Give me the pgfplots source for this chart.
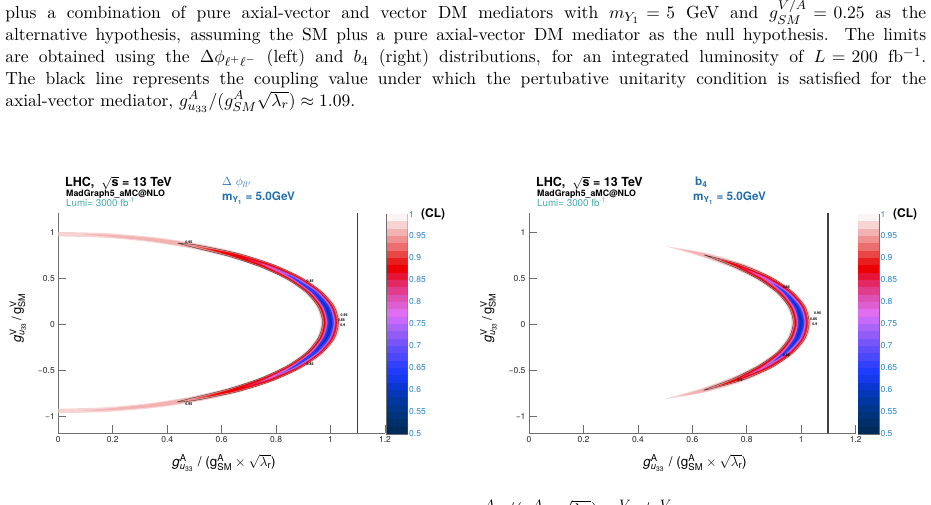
\RequirePackage{fix-cm}
\documentclass[border=0pt]{standalone}
\usepackage{amsmath}
\usepackage{fontspec}
\setsansfont{TeX Gyre Heros}
\usepackage{pgfplots}
\pgfplotsset{compat=1.18}

\definecolor{axgray}{RGB}{110,110,110}
\definecolor{tblue}{RGB}{35,110,175}
\definecolor{cbblue}{RGB}{40,130,195}
\definecolor{lumiteal}{RGB}{70,170,170}
% band colours
\definecolor{b1}{RGB}{247,212,212}
\definecolor{b2}{RGB}{243,178,178}
\definecolor{b3}{RGB}{240,145,145}
\definecolor{b4}{RGB}{233,70,70}
\definecolor{b5}{RGB}{235,0,5}
\definecolor{b6}{RGB}{228,40,100}
\definecolor{b7}{RGB}{222,95,210}
\definecolor{b8}{RGB}{150,95,248}
\definecolor{b9}{RGB}{45,60,245}
\definecolor{b10}{RGB}{10,50,200}
% colorbar colours (0.5 -> 1)
\definecolor{c0}{RGB}{0,42,90}
\definecolor{c1}{RGB}{0,48,105}
\definecolor{c2}{RGB}{0,52,122}
\definecolor{c3}{RGB}{0,55,140}
\definecolor{c4}{RGB}{0,55,160}
\definecolor{c5}{RGB}{5,55,185}
\definecolor{c6}{RGB}{10,55,210}
\definecolor{c7}{RGB}{20,58,235}
\definecolor{c8}{RGB}{30,60,250}
\definecolor{c9}{RGB}{50,65,252}
\definecolor{c10}{RGB}{75,72,250}
\definecolor{c11}{RGB}{95,78,250}
\definecolor{c12}{RGB}{120,85,248}
\definecolor{c13}{RGB}{145,92,248}
\definecolor{c14}{RGB}{170,100,248}
\definecolor{c15}{RGB}{200,105,250}
\definecolor{c16}{RGB}{225,110,240}
\definecolor{c17}{RGB}{222,95,210}
\definecolor{c18}{RGB}{222,80,180}
\definecolor{c19}{RGB}{226,60,140}
\definecolor{c20}{RGB}{228,40,100}
\definecolor{c21}{RGB}{230,20,55}
\definecolor{c22}{RGB}{235,0,5}
\definecolor{c23}{RGB}{232,30,30}
\definecolor{c24}{RGB}{233,70,70}
\definecolor{c25}{RGB}{236,110,110}
\definecolor{c26}{RGB}{240,145,145}
\definecolor{c27}{RGB}{243,178,178}
\definecolor{c28}{RGB}{247,212,212}
\definecolor{c29}{RGB}{251,244,244}

\pgfplotsset{
  mainax/.style={
    anchor=south west, scale only axis, width=326.7pt, height=220pt,
    xmin=0, xmax=1.2, ymin=-1.18, ymax=1.21,
    axis x line*=bottom, axis y line*=left,
    axis line style={draw=axgray, line width=0.7pt, -},
    xtick={0,0.2,0.4,0.6,0.8,1,1.2},
    xticklabels={0,0.2,0.4,0.6,0.8,1,1.2},
    ytick={-1,-0.5,0,0.5,1},
    yticklabels={−1,−0.5,0,0.5,1},
    tick align=inside, major tick length=8pt,
    tick style={draw=axgray, line width=0.7pt},
    ticklabel style={font=\sffamily\fontsize{8.5}{10}\selectfont, text=black!85},
    every axis plot/.append style={mark=none},
  },
  band/.style={draw=none, mark=none, forget plot, smooth, tension=0.45},
  cbax/.style={
    anchor=south west, scale only axis, width=21pt, height=220pt,
    xmin=0, xmax=1, ymin=0.5, ymax=1, enlargelimits=false,
    ybar stacked, bar width=1,
    xtick=\empty,
    ytick={0.5,0.55,0.6,0.65,0.7,0.75,0.8,0.85,0.9,0.95,1},
    yticklabels={0.5,0.55,0.6,0.65,0.7,0.75,0.8,0.85,0.9,0.95,1},
    ytick pos=right, yticklabel pos=right,
    tick align=inside, major tick length=7pt,
    tick style={draw=black!80, line width=0.6pt},
    axis line style={draw=axgray, line width=0.5pt},
    ticklabel style={font=\sffamily\fontsize{8.5}{9}\selectfont, text=cbblue},
    yticklabel style={xshift=-2pt},
  },
}

\newcommand{\cbplots}{%
  \addplot[fill=c0,draw=none] coordinates {(0.5,0.516667)};
  \addplot[fill=c1,draw=none] coordinates {(0.5,0.016667)};
  \addplot[fill=c2,draw=none] coordinates {(0.5,0.016667)};
  \addplot[fill=c3,draw=none] coordinates {(0.5,0.016667)};
  \addplot[fill=c4,draw=none] coordinates {(0.5,0.016667)};
  \addplot[fill=c5,draw=none] coordinates {(0.5,0.016667)};
  \addplot[fill=c6,draw=none] coordinates {(0.5,0.016667)};
  \addplot[fill=c7,draw=none] coordinates {(0.5,0.016667)};
  \addplot[fill=c8,draw=none] coordinates {(0.5,0.016667)};
  \addplot[fill=c9,draw=none] coordinates {(0.5,0.016667)};
  \addplot[fill=c10,draw=none] coordinates {(0.5,0.016667)};
  \addplot[fill=c11,draw=none] coordinates {(0.5,0.016667)};
  \addplot[fill=c12,draw=none] coordinates {(0.5,0.016667)};
  \addplot[fill=c13,draw=none] coordinates {(0.5,0.016667)};
  \addplot[fill=c14,draw=none] coordinates {(0.5,0.016667)};
  \addplot[fill=c15,draw=none] coordinates {(0.5,0.016667)};
  \addplot[fill=c16,draw=none] coordinates {(0.5,0.016667)};
  \addplot[fill=c17,draw=none] coordinates {(0.5,0.016667)};
  \addplot[fill=c18,draw=none] coordinates {(0.5,0.016667)};
  \addplot[fill=c19,draw=none] coordinates {(0.5,0.016667)};
  \addplot[fill=c20,draw=none] coordinates {(0.5,0.016667)};
  \addplot[fill=c21,draw=none] coordinates {(0.5,0.016667)};
  \addplot[fill=c22,draw=none] coordinates {(0.5,0.016667)};
  \addplot[fill=c23,draw=none] coordinates {(0.5,0.016667)};
  \addplot[fill=c24,draw=none] coordinates {(0.5,0.016667)};
  \addplot[fill=c25,draw=none] coordinates {(0.5,0.016667)};
  \addplot[fill=c26,draw=none] coordinates {(0.5,0.016667)};
  \addplot[fill=c27,draw=none] coordinates {(0.5,0.016667)};
  \addplot[fill=c28,draw=none] coordinates {(0.5,0.016667)};
  \addplot[fill=c29,draw=none] coordinates {(0.5,0.016667)};
}

\newcommand{\sfm}[1]{\textsf{#1}}
\newcommand{\ylab}{$\sfm{\textit{g}}^{\sfm{V}}_{\sfm{\textit{u}}_{\sfm{33}}}$\,\sfm{/}\,$\sfm{g}^{\sfm{V}}_{\sfm{SM}}$}
\newcommand{\xlab}{$\sfm{\textit{g}}^{\sfm{A}}_{\sfm{\textit{u}}_{\sfm{33}}}$\ \sfm{/ (}$\sfm{g}^{\sfm{A}}_{\sfm{SM}}\times\sqrt{\lambda_{\sfm{r}}}$\sfm{)}}

\begin{document}
\begin{tikzpicture}[x=1pt,y=1pt]
\path[use as bounding box] (0pt,0pt) rectangle (931pt,504pt);
\clip (0pt,0pt) rectangle (931pt,504pt);

% ---------- caption text ----------
\node[anchor=base west, inner sep=0pt, scale=1.6] at (5pt,485pt) {\begin{minipage}[t]{575.6pt}\fontsize{10.95}{13.62}\selectfont
\thickmuskip=5mu plus 1mu\medmuskip=4mu plus 1mu minus 4mu\noindent
plus a combination of pure axial-vector and vector DM mediators with $m_{Y_1}=5$ GeV and $g_{SM}^{V/A}=0.25$ as the\linebreak
alternative hypothesis, assuming the SM plus a pure axial-vector DM mediator as the null hypothesis. The limits\linebreak
are obtained using the $\Delta\phi_{\ell^+\ell^-}$ (left) and $b_4$ (right) distributions, for an integrated luminosity of $L=200$ fb$^{-1}$.\linebreak
The black line represents the coupling value under which the pertubative unitarity condition is satisfied for the\linebreak
axial-vector mediator, $g^A_{u_{33}}/(g^A_{SM}\sqrt{\lambda_r})\approx1.09$.
\end{minipage}};
\node[anchor=base west, inner sep=0pt, scale=1.7, font=\fontsize{10.95}{13}\selectfont] at (474pt,-12pt) {$g^A_{u_{33}}/(g^A_{SM}\sqrt{\lambda_r})$, $g^V_{u_{33}}/g^V_{SM}$};

% ================= LEFT PANEL =================
\begin{axis}[mainax, at={(58.3pt,71pt)}]
\addplot[band, fill=b1] coordinates {(-0.089,0.999) (0,1.004) (0.179,0.991) (0.352,0.947) (0.515,0.876) (0.664,0.779) (0.791,0.657) (0.895,0.516) (0.973,0.359) (1.020,0.193) (1.036,0.02) (1.020,-0.153) (0.973,-0.319) (0.895,-0.476) (0.791,-0.617) (0.664,-0.739) (0.515,-0.836) (0.352,-0.907) (0.179,-0.951) (0,-0.964) (-0.089,-0.959)
 (-0.085,-0.913) (0,-0.916) (0.169,-0.901) (0.332,-0.857) (0.485,-0.786) (0.622,-0.691) (0.741,-0.577) (0.837,-0.444) (0.907,-0.297) (0.950,-0.141) (0.964,0.02) (0.950,0.181) (0.907,0.337) (0.837,0.484) (0.741,0.617) (0.622,0.731) (0.485,0.826) (0.332,0.897) (0.169,0.941) (0,0.956) (-0.085,0.953)};
\addplot[band, fill=b2] coordinates {(0.087,0.976) (0.176,0.975) (0.348,0.938) (0.512,0.871) (0.660,0.775) (0.788,0.655) (0.892,0.514) (0.969,0.358) (1.017,0.192) (1.032,0.02) (1.017,-0.152) (0.969,-0.318) (0.892,-0.474) (0.788,-0.615) (0.660,-0.735) (0.512,-0.831) (0.348,-0.898) (0.176,-0.935) (0.087,-0.936)
 (0.172,-0.917) (0.336,-0.866) (0.488,-0.791) (0.626,-0.695) (0.744,-0.579) (0.840,-0.446) (0.911,-0.298) (0.953,-0.142) (0.968,0.02) (0.953,0.182) (0.911,0.338) (0.840,0.486) (0.744,0.619) (0.626,0.735) (0.488,0.831) (0.336,0.906) (0.172,0.957)};
\addplot[band, fill=b3, draw=black!80, line width=0.35pt] coordinates {(0.438,0.883) (0.507,0.863) (0.658,0.772) (0.786,0.653) (0.889,0.513) (0.966,0.357) (1.014,0.192) (1.029,0.02) (1.014,-0.152) (0.966,-0.317) (0.889,-0.473) (0.786,-0.613) (0.658,-0.732) (0.507,-0.823) (0.438,-0.843)
 (0.493,-0.799) (0.628,-0.698) (0.746,-0.581) (0.843,-0.447) (0.914,-0.299) (0.956,-0.142) (0.971,0.02) (0.956,0.182) (0.914,0.339) (0.843,0.487) (0.746,0.621) (0.628,0.738) (0.493,0.839) (0.438,0.883)};
\addplot[band, fill=b4] coordinates {(0.5,0.851) (0.654,0.767) (0.783,0.651) (0.887,0.512) (0.964,0.356) (1.011,0.191) (1.026,0.02) (1.011,-0.151) (0.964,-0.316) (0.887,-0.472) (0.783,-0.611) (0.654,-0.727) (0.5,-0.811)
 (0.632,-0.703) (0.749,-0.583) (0.845,-0.448) (0.917,-0.300) (0.959,-0.143) (0.974,0.02) (0.959,0.183) (0.917,0.340) (0.845,0.488) (0.749,0.623) (0.632,0.743)};
\addplot[band, fill=b5] coordinates {(0.545,0.825) (0.651,0.764) (0.780,0.648) (0.884,0.510) (0.961,0.355) (1.008,0.191) (1.023,0.02) (1.008,-0.151) (0.961,-0.315) (0.884,-0.470) (0.780,-0.608) (0.651,-0.724) (0.545,-0.785)
 (0.635,-0.706) (0.752,-0.586) (0.848,-0.450) (0.919,-0.301) (0.962,-0.143) (0.977,0.02) (0.962,0.183) (0.919,0.341) (0.848,0.490) (0.752,0.626) (0.635,0.746)};
\addplot[band, fill=b6] coordinates {(0.682,0.722) (0.774,0.643) (0.880,0.508) (0.957,0.354) (1.004,0.190) (1.019,0.02) (1.004,-0.150) (0.957,-0.314) (0.880,-0.468) (0.774,-0.603) (0.682,-0.682)
 (0.758,-0.591) (0.852,-0.452) (0.923,-0.302) (0.966,-0.144) (0.981,0.02) (0.966,0.184) (0.923,0.342) (0.852,0.492) (0.758,0.631)};
\addplot[band, fill=b7] coordinates {(0.743,0.662) (0.769,0.639) (0.876,0.506) (0.954,0.353) (1.001,0.190) (1.016,0.02) (1.001,-0.150) (0.954,-0.313) (0.876,-0.466) (0.769,-0.599) (0.743,-0.622)
 (0.763,-0.595) (0.856,-0.454) (0.926,-0.303) (0.969,-0.144) (0.984,0.02) (0.969,0.184) (0.926,0.343) (0.856,0.494) (0.763,0.635)};
\addplot[band, fill=b8] coordinates {(0.799,0.598) (0.873,0.504) (0.951,0.352) (0.998,0.189) (1.013,0.02) (0.998,-0.149) (0.951,-0.312) (0.873,-0.464) (0.799,-0.558)
 (0.859,-0.456) (0.929,-0.304) (0.972,-0.145) (0.987,0.02) (0.972,0.185) (0.929,0.344) (0.859,0.496)};
\addplot[band, fill=b9] coordinates {(0.839,0.543) (0.869,0.502) (0.948,0.351) (0.996,0.189) (1.011,0.02) (0.996,-0.149) (0.948,-0.311) (0.869,-0.462) (0.839,-0.503)
 (0.863,-0.458) (0.932,-0.305) (0.974,-0.145) (0.989,0.02) (0.974,0.185) (0.932,0.345) (0.863,0.498)};
\addplot[band, fill=b10] coordinates {(0.940,0.348) (0.989,0.188) (1.006,0.02) (0.989,-0.148) (0.940,-0.308)
 (0.981,-0.146) (0.994,0.02) (0.981,0.186)};
\addplot[black!75, line width=1.3pt, forget plot] coordinates {(1.098,-1.18) (1.098,1.21)};
\begin{scope}[every node/.style={font=\sffamily\bfseries\fontsize{3.6}{4}\selectfont, inner sep=0pt}]
\node at (axis cs:0.48,0.89) {0.95};
\node at (axis cs:0.48,-0.865) {0.95};
\node at (axis cs:0.925,0.465) {0.85};
\node at (axis cs:0.925,-0.435) {0.85};
\node at (axis cs:1.05,0.105) {0.95};
\node at (axis cs:1.04,0.045) {0.85};
\node at (axis cs:1.045,-0.01) {0.9};
\end{scope}
\end{axis}

\begin{axis}[cbax, at={(386.7pt,70pt)}]
\cbplots
\end{axis}

% ================= RIGHT PANEL =================
\begin{axis}[mainax, at={(529pt,71pt)}]
\addplot[band, fill=b1] coordinates {(0.5,0.851) (0.657,0.771) (0.790,0.656) (0.895,0.516) (0.973,0.359) (1.020,0.193) (1.036,0.02) (1.020,-0.153) (0.973,-0.319) (0.895,-0.476) (0.790,-0.616) (0.657,-0.731) (0.5,-0.811)
 (0.629,-0.699) (0.742,-0.578) (0.837,-0.444) (0.907,-0.297) (0.950,-0.141) (0.964,0.02) (0.950,0.181) (0.907,0.337) (0.837,0.484) (0.742,0.618) (0.629,0.739)};
\addplot[band, fill=b2] coordinates {(0.559,0.816) (0.653,0.766) (0.786,0.653) (0.892,0.514) (0.969,0.358) (1.017,0.192) (1.032,0.02) (1.017,-0.152) (0.969,-0.318) (0.892,-0.474) (0.786,-0.613) (0.653,-0.726) (0.559,-0.776)
 (0.633,-0.704) (0.746,-0.581) (0.840,-0.446) (0.911,-0.298) (0.953,-0.142) (0.968,0.02) (0.953,0.182) (0.911,0.338) (0.840,0.486) (0.746,0.621) (0.633,0.744)};
\addplot[band, fill=b3, draw=black!80, line width=0.35pt] coordinates {(0.643,0.755) (0.780,0.648) (0.889,0.512) (0.966,0.357) (1.014,0.192) (1.029,0.02) (1.014,-0.152) (0.966,-0.317) (0.889,-0.472) (0.780,-0.608) (0.643,-0.715)
 (0.752,-0.586) (0.844,-0.448) (0.914,-0.299) (0.956,-0.142) (0.971,0.02) (0.956,0.182) (0.914,0.339) (0.844,0.488) (0.752,0.626) (0.643,0.755)};
\addplot[band, fill=b4] coordinates {(0.682,0.722) (0.775,0.644) (0.885,0.511) (0.964,0.356) (1.011,0.191) (1.026,0.02) (1.011,-0.151) (0.964,-0.316) (0.885,-0.471) (0.775,-0.604) (0.682,-0.682)
 (0.757,-0.590) (0.847,-0.449) (0.917,-0.300) (0.959,-0.143) (0.974,0.02) (0.959,0.183) (0.917,0.340) (0.847,0.489) (0.757,0.630)};
\addplot[band, fill=b5] coordinates {(0.707,0.699) (0.772,0.642) (0.882,0.509) (0.961,0.355) (1.008,0.191) (1.023,0.02) (1.008,-0.151) (0.961,-0.315) (0.882,-0.469) (0.772,-0.602) (0.707,-0.659)
 (0.760,-0.592) (0.850,-0.451) (0.919,-0.301) (0.962,-0.143) (0.977,0.02) (0.962,0.183) (0.919,0.341) (0.850,0.491) (0.760,0.632)};
\addplot[band, fill=b6] coordinates {(0.766,0.637) (0.876,0.505) (0.956,0.354) (1.004,0.190) (1.019,0.02) (1.004,-0.150) (0.956,-0.314) (0.876,-0.465) (0.766,-0.597)
 (0.856,-0.455) (0.924,-0.302) (0.966,-0.144) (0.981,0.02) (0.966,0.184) (0.924,0.342) (0.856,0.495)};
\addplot[band, fill=b7] coordinates {(0.809,0.584) (0.871,0.503) (0.952,0.352) (1.001,0.190) (1.016,0.02) (1.001,-0.150) (0.952,-0.312) (0.871,-0.463) (0.809,-0.544)
 (0.861,-0.457) (0.928,-0.304) (0.969,-0.144) (0.984,0.02) (0.969,0.184) (0.928,0.344) (0.861,0.497)};
\addplot[band, fill=b8] coordinates {(0.866,0.500) (0.948,0.351) (0.997,0.189) (1.013,0.02) (0.997,-0.149) (0.948,-0.311) (0.866,-0.460)
 (0.932,-0.305) (0.973,-0.145) (0.987,0.02) (0.973,0.185) (0.932,0.345)};
\addplot[band, fill=b9] coordinates {(0.899,0.440) (0.945,0.350) (0.995,0.189) (1.011,0.02) (0.995,-0.149) (0.945,-0.310) (0.899,-0.400)
 (0.935,-0.306) (0.975,-0.145) (0.989,0.02) (0.975,0.185) (0.935,0.346)};
\addplot[band, fill=b10] coordinates {(0.951,0.317) (0.988,0.188) (1.006,0.02) (0.988,-0.148) (0.951,-0.277)
 (0.982,-0.146) (0.994,0.02) (0.982,0.186)};
\addplot[black!75, line width=1.3pt, forget plot] coordinates {(1.098,-1.18) (1.098,1.21)};
\begin{scope}[every node/.style={font=\sffamily\bfseries\fontsize{3.6}{4}\selectfont, inner sep=0pt}]
\node at (axis cs:0.945,0.40) {0.85};
\node at (axis cs:0.945,-0.335) {0.85};
\node at (axis cs:0.775,-0.605) {0.9};
\node at (axis cs:1.06,0.12) {0.95};
\node at (axis cs:1.045,0.06) {0.85};
\node at (axis cs:1.05,0.0) {0.9};
\end{scope}
\end{axis}

\begin{axis}[cbax, at={(858pt,70pt)}]
\cbplots
\end{axis}

% ---------- panel texts ----------
\begin{scope}[every node/.style={inner sep=0pt}]
% left
\node[anchor=base west, font=\sffamily\bfseries\fontsize{12.5}{14}\selectfont] at (65pt,317pt) {LHC,\ \ $\sqrt{\textsf{\textbf{s}}}$ = 13 TeV};
\node[anchor=base west, font=\sffamily\bfseries\fontsize{8.8}{10}\selectfont] at (66pt,307.5pt) {MadGraph5\_aMC@NLO};
\node[anchor=base west, font=\sffamily\fontsize{9.8}{10}\selectfont, text=lumiteal] at (66pt,297.5pt) {Lumi= 3000 fb$^{\text{-1}}$};
\node[anchor=base west, font=\fontsize{12}{13}\selectfont, text=tblue] at (222pt,318pt) {$\Delta\ \phi_{ll'}$};
\node[anchor=base west, font=\sffamily\bfseries\fontsize{11.7}{13}\selectfont, text=tblue] at (222pt,303pt) {m$_{\text{Y}_{\text{1}}}$ = 5.0GeV};
\node[anchor=base west, font=\sffamily\bfseries\fontsize{12}{13}\selectfont] at (421pt,286pt) {(CL)};
\node[rotate=90, anchor=base, font=\fontsize{13}{14}\selectfont] at (21pt,186pt) {\ylab};
\node[anchor=base, font=\fontsize{13.5}{14}\selectfont] at (224pt,38pt) {\xlab};
% right
\node[anchor=base west, font=\sffamily\bfseries\fontsize{12.5}{14}\selectfont] at (536pt,317pt) {LHC,\ \ $\sqrt{\textsf{\textbf{s}}}$ = 13 TeV};
\node[anchor=base west, font=\sffamily\bfseries\fontsize{8.8}{10}\selectfont] at (537pt,307.5pt) {MadGraph5\_aMC@NLO};
\node[anchor=base west, font=\sffamily\fontsize{9.8}{10}\selectfont, text=lumiteal] at (537pt,297.5pt) {Lumi= 3000 fb$^{\text{-1}}$};
\node[anchor=base west, font=\sffamily\bfseries\fontsize{11.7}{13}\selectfont, text=tblue] at (695pt,318pt) {b$_{\text{4}}$};
\node[anchor=base west, font=\sffamily\bfseries\fontsize{11.7}{13}\selectfont, text=tblue] at (693pt,303pt) {m$_{\text{Y}_{\text{1}}}$ = 5.0GeV};
\node[anchor=base west, font=\sffamily\bfseries\fontsize{12}{13}\selectfont] at (893pt,286pt) {(CL)};
\node[rotate=90, anchor=base, font=\fontsize{13}{14}\selectfont] at (491.7pt,186pt) {\ylab};
\node[anchor=base, font=\fontsize{13.5}{14}\selectfont] at (695pt,38pt) {\xlab};
\end{scope}
\end{tikzpicture}
\end{document}
